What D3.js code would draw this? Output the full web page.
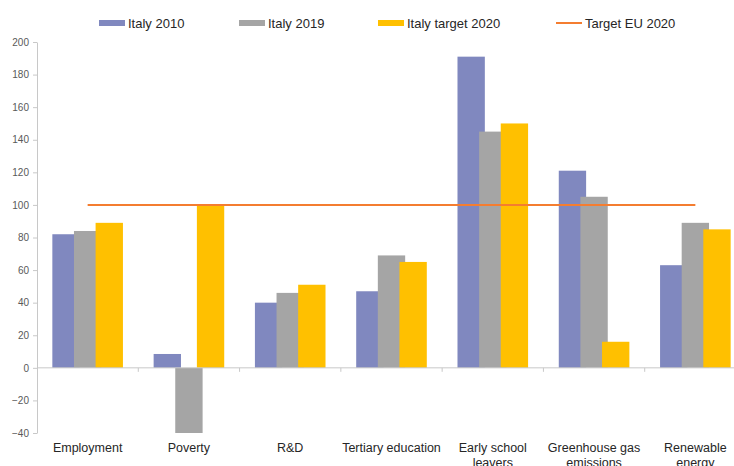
<!DOCTYPE html>
<html>
<head>
<meta charset="utf-8">
<script src="https://cdn.jsdelivr.net/npm/d3@7"></script>
<style>
  html, body { margin: 0; padding: 0; background: #fff; }
  svg { display: block; font-family: "Liberation Sans", Arial, sans-serif; }
</style>
</head>
<body>
<svg id="chart" width="734" height="466"></svg>
<script>
// Europe 2020 indicators, index (EU target = 100)
const categories = [
  ["Employment"],
  ["Poverty"],
  ["R&D"],
  ["Tertiary education"],
  ["Early school", "leavers"],
  ["Greenhouse gas", "emissions"],
  ["Renewable", "energy"]
];
const italy2010 = [82, 8.5, 40, 47, 191, 121, 63];
const italy2019 = [84, -40, 46, 69, 145, 105, 89];
const italyTarget2020 = [89, 100, 51, 65, 150, 16, 85];
const targetEU2020 = [100, 100, 100, 100, 100, 100, 100];
const seriesNames = ["Italy 2010", "Italy 2019", "Italy target 2020", "Target EU 2020"];
const yTicks = [200, 180, 160, 140, 120, 100, 80, 60, 40, 20, 0, -20, -40];

const colors = ["#8088bf", "#a5a5a5", "#ffc000", "#f47d30"];
const barSeries = [italy2010, italy2019, italyTarget2020];

const svg = d3.select("#chart");
const plot = { left: 37, right: 746, top: 42, bottom: 433 };

const x = d3.scaleBand()
  .domain(d3.range(categories.length))
  .range([plot.left, plot.right])
  .padding(0);
const y = d3.scaleLinear().domain([-40, 200]).range([plot.bottom, plot.top]);

const bw = x.bandwidth();
const barWidth = bw * 0.27;
const barStep = bw * 0.2135;
const groupWidth = barStep * 2 + barWidth;

// bars, drawn series by series so later series overlap earlier ones
barSeries.forEach((vals, s) => {
  svg.append("g").selectAll("rect")
    .data(vals)
    .join("rect")
    .attr("x", (d, i) => x(i) + (bw - groupWidth) / 2 + s * barStep)
    .attr("width", barWidth)
    .attr("y", d => y(Math.max(0, d)))
    .attr("height", d => Math.abs(y(d) - y(0)))
    .attr("fill", colors[s]);
});

// y axis
const yAxis = svg.append("g")
  .attr("transform", `translate(${plot.left},0)`)
  .call(d3.axisLeft(y).tickValues(yTicks).tickSize(4).tickPadding(4).tickSizeOuter(0));
yAxis.select(".domain").attr("stroke", "#c8c8c8");
yAxis.selectAll(".tick line").attr("stroke", "#c8c8c8");
yAxis.selectAll(".tick text")
  .attr("fill", "#595959")
  .style("font-size", "10px");

// category axis on the zero line
const xAxis = svg.append("g")
  .attr("transform", `translate(0,${y(0)})`);
xAxis.append("line")
  .attr("x1", plot.left).attr("x2", plot.right)
  .attr("stroke", "#c8c8c8");
xAxis.selectAll("line.tick")
  .data(d3.range(1, categories.length))
  .join("line")
  .attr("class", "tick")
  .attr("x1", i => x(i)).attr("x2", i => x(i))
  .attr("y1", 0).attr("y2", 4)
  .attr("stroke", "#c8c8c8");

// category labels below the plot
const labels = svg.append("g");
categories.forEach((lines, i) => {
  const t = labels.append("text")
    .attr("x", x(i) + bw / 2)
    .attr("y", 452)
    .attr("text-anchor", "middle")
    .attr("fill", "#262626")
    .style("font-size", "12.5px");
  lines.forEach((ln, k) => {
    t.append("tspan")
      .attr("x", x(i) + bw / 2)
      .attr("dy", k === 0 ? 0 : 15)
      .text(ln);
  });
});

// EU target line, from first to last category centre
const line = d3.line()
  .x((d, i) => x(i) + bw / 2)
  .y(d => y(d));
svg.append("path")
  .datum(targetEU2020)
  .attr("d", line)
  .attr("fill", "none")
  .attr("stroke", colors[3])
  .attr("stroke-width", 2);

// legend
const legendX = [99, 239, 378, 556];
const legend = svg.append("g");
seriesNames.forEach((name, i) => {
  const g = legend.append("g").attr("transform", `translate(${legendX[i]},23)`);
  if (i < 3) {
    g.append("rect").attr("x", 0).attr("y", -3).attr("width", 26).attr("height", 6).attr("fill", colors[i]);
  } else {
    g.append("line").attr("x1", 0).attr("x2", 26).attr("y1", 0).attr("y2", 0)
      .attr("stroke", colors[i]).attr("stroke-width", 2);
  }
  g.append("text")
    .attr("x", 29)
    .attr("y", 0)
    .attr("dy", "0.35em")
    .attr("fill", "#262626")
    .style("font-size", "13px")
    .text(name);
});
</script>
</body>
</html>
